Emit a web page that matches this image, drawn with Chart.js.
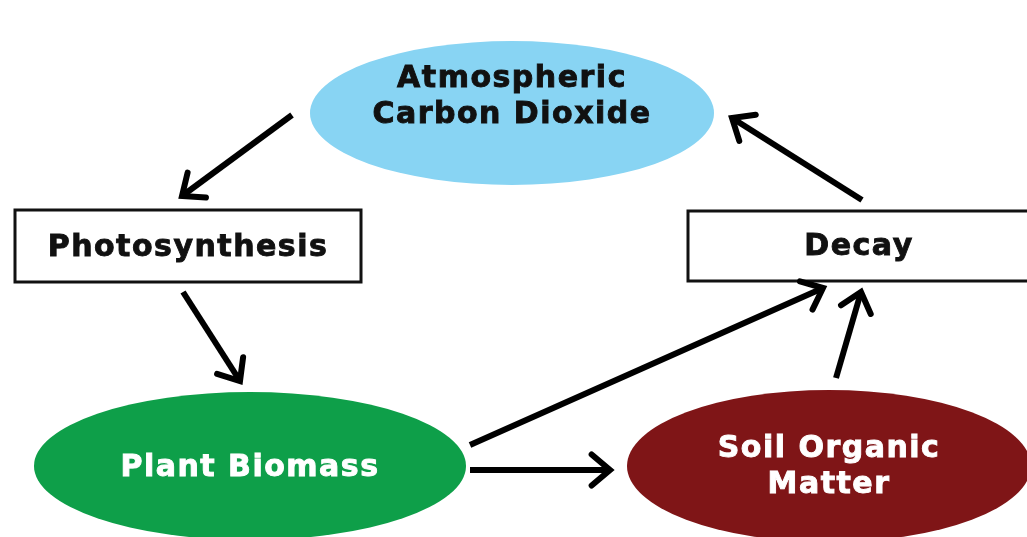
<!DOCTYPE html>
<html>
<head>
<meta charset="utf-8">
<script src="https://cdn.jsdelivr.net/npm/chart.js@4/dist/chart.umd.min.js"></script>
<style>
  html, body { margin: 0; padding: 0; background: #fff; }
  #wrap { width: 1027px; height: 537px; }
</style>
</head>
<body>
<div id="wrap"><canvas id="chart" width="1027" height="537"></canvas></div>
<script>
// nodes of the cycle (units on a 1027 x 537 grid, y down)
const nodeLabels = [['Atmospheric', 'Carbon Dioxide'], ['Photosynthesis'], ['Decay'], ['Plant Biomass'], ['Soil Organic', 'Matter']];
const nodeShape = ['ellipse', 'box', 'box', 'ellipse', 'ellipse'];
const nodeX = [512, 188, 859, 250, 829];
const nodeY = [113, 246, 246, 466, 466];
const nodeRX = [202, 173, 171, 216, 202];
const nodeRY = [72, 36, 35, 74, 76];
const labelY = [97, 248, 247, 468, 467];
const nodeFill = ['#88d4f3', '#ffffff', '#ffffff', '#0e9f49', '#7f1517'];
const nodeText = ['#111111', '#111111', '#111111', '#ffffff', '#ffffff'];

// arrows: from -> to (head at the "to" end)
const arrowFromX = [292, 183, 470, 470, 836, 862];
const arrowFromY = [115, 292, 445, 470, 378, 200];
const arrowToX = [182, 240, 823, 610, 861, 732];
const arrowToY = [196, 381, 288, 470, 292, 118];

const arrowSets = arrowFromX.map((x, i) => ({
  data: [{ x: x, y: arrowFromY[i] }, { x: arrowToX[i], y: arrowToY[i] }],
  showLine: true,
  borderColor: '#000',
  borderWidth: 6,
  pointRadius: 0,
  borderCapStyle: 'butt'
}));

const diagram = {
  id: 'diagram',
  beforeDatasetsDraw(chart) {
    const { ctx, scales: { x, y } } = chart;
    ctx.save();
    nodeX.forEach((nx, i) => {
      const cx = x.getPixelForValue(nx), cy = y.getPixelForValue(nodeY[i]);
      const rx = x.getPixelForValue(nx + nodeRX[i]) - cx;
      const ry = y.getPixelForValue(nodeY[i] + nodeRY[i]) - cy;
      ctx.beginPath();
      if (nodeShape[i] === 'ellipse') {
        ctx.ellipse(cx, cy, rx, ry, 0, 0, Math.PI * 2);
        ctx.fillStyle = nodeFill[i];
        ctx.fill();
      } else {
        ctx.rect(cx - rx, cy - ry, rx * 2, ry * 2);
        ctx.fillStyle = nodeFill[i];
        ctx.fill();
        ctx.lineWidth = 3;
        ctx.strokeStyle = '#111';
        ctx.stroke();
      }
      ctx.fillStyle = nodeText[i];
      ctx.strokeStyle = nodeText[i];
      ctx.lineWidth = 0.9;
      ctx.font = 'bold 30px "DejaVu Sans"';
      ctx.letterSpacing = '1.5px';
      ctx.textAlign = 'center';
      ctx.textBaseline = 'middle';
      const lines = nodeLabels[i];
      const ly = y.getPixelForValue(labelY[i]);
      lines.forEach((t, k) => {
        const ty = ly + (k - (lines.length - 1) / 2) * 36;
        ctx.fillText(t, cx, ty);
        ctx.strokeText(t, cx, ty);
      });
    });
    ctx.restore();
  },
  afterDatasetsDraw(chart) {
    const { ctx, scales: { x, y } } = chart;
    ctx.save();
    ctx.strokeStyle = '#000';
    ctx.lineWidth = 6;
    ctx.lineCap = 'round';
    ctx.lineJoin = 'miter';
    arrowToX.forEach((tx, i) => {
      const px = x.getPixelForValue(tx), py = y.getPixelForValue(arrowToY[i]);
      const fx = x.getPixelForValue(arrowFromX[i]), fy = y.getPixelForValue(arrowFromY[i]);
      const a = Math.atan2(py - fy, px - fx);
      const len = 24, spread = 0.7;
      ctx.beginPath();
      ctx.moveTo(px - len * Math.cos(a - spread), py - len * Math.sin(a - spread));
      ctx.lineTo(px, py);
      ctx.lineTo(px - len * Math.cos(a + spread), py - len * Math.sin(a + spread));
      ctx.stroke();
    });
    ctx.restore();
  }
};

new Chart(document.getElementById('chart').getContext('2d'), {
  type: 'scatter',
  data: { datasets: arrowSets },
  options: {
    responsive: false,
    animation: false,
    layout: { padding: 0 },
    plugins: { legend: { display: false }, tooltip: { enabled: false } },
    scales: {
      x: { type: 'linear', min: 0, max: 1027, display: false },
      y: { type: 'linear', min: 0, max: 537, reverse: true, display: false }
    }
  },
  plugins: [diagram]
});
</script>
</body>
</html>
